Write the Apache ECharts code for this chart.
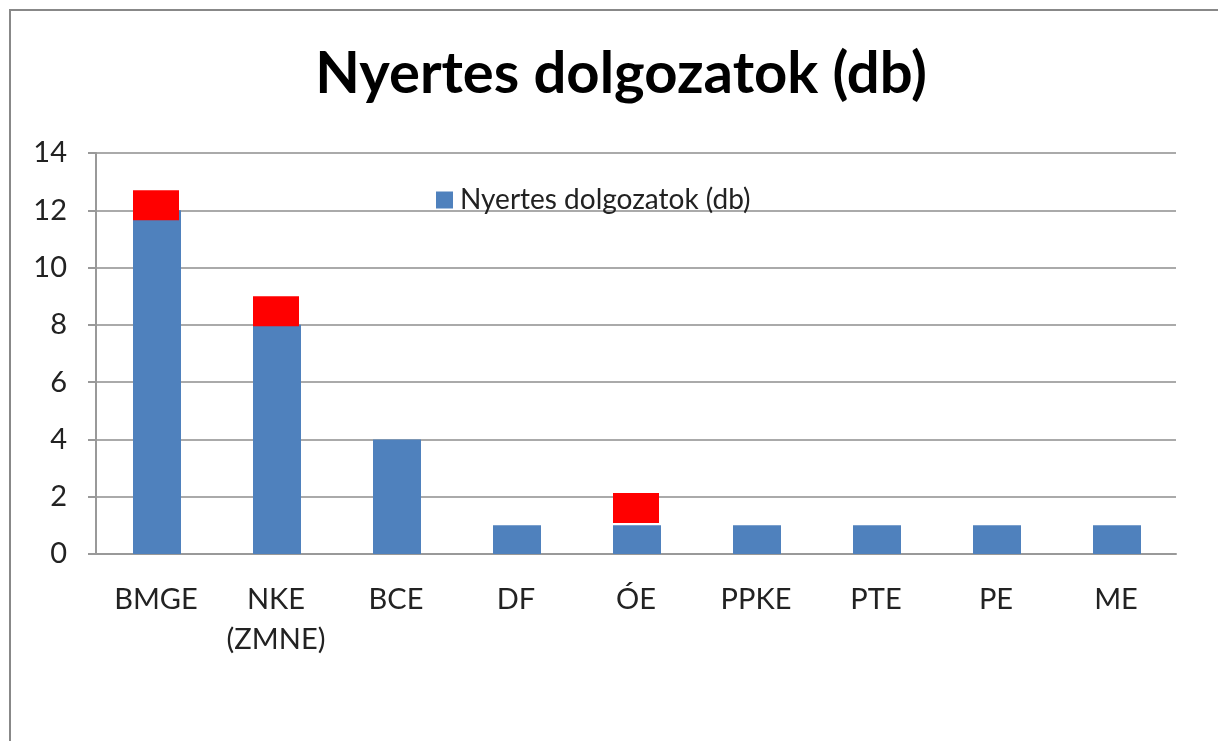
<!DOCTYPE html>
<html>
<head>
<meta charset="utf-8">
<script src="https://cdn.jsdelivr.net/npm/echarts@6/dist/echarts.min.js"></script>
<style>
  html, body { margin: 0; padding: 0; background: #fff; }
  #chart { width: 1218px; height: 741px; }
</style>
</head>
<body>
<div id="chart"></div>
<script>
// 数据
const categories = ['BMGE', 'NKE\n(ZMNE)', 'BCE', 'DF', 'ÓE', 'PPKE', 'PTE', 'PE', 'ME'];
const winners = [12, 8, 4, 1, 1, 1, 1, 1, 1];
// 红色标记（起点和高度）
const markBase = [11.65, 7.95, null, null, 1.08, null, null, null, null];
const markHeight = [1.05, 1.05, null, null, 1.05, null, null, null, null];
const yTicks = [0, 2, 4, 6, 8, 10, 12, 14];

const chart = echarts.init(document.getElementById('chart'));

const font = 'Lato, "Open Sans", sans-serif';

const option = {
  animation: false,
  backgroundColor: '#fff',
  title: {
    text: 'Nyertes dolgozatok (db)',
    left: 616,
    textAlign: 'center',
    top: 40,
    textStyle: {
      fontFamily: font,
      fontSize: 58,
      fontWeight: 'bold',
      color: '#000'
    }
  },
  legend: {
    data: ['Nyertes dolgozatok (db)'],
    left: 431,
    top: 181,
    itemWidth: 17,
    itemHeight: 17,
    itemGap: 10,
    icon: 'rect',
    textStyle: {
      fontFamily: font,
      fontSize: 28,
      color: '#222',
      padding: [0, 0, 0, 2]
    }
  },
  grid: {
    left: 96,
    right: 42,
    top: 153,
    bottom: 187
  },
  xAxis: {
    type: 'category',
    data: categories,
    axisLine: { lineStyle: { color: '#999', width: 2 } },
    axisTick: { length: 9, lineStyle: { color: '#999', width: 2 } },
    axisLabel: {
      interval: 0,
      fontFamily: font,
      fontSize: 29,
      color: '#222',
      lineHeight: 40,
      margin: 26
    }
  },
  yAxis: {
    type: 'value',
    min: yTicks[0],
    max: yTicks[yTicks.length - 1],
    interval: 2,
    axisLine: { show: true, lineStyle: { color: '#999', width: 2 } },
    axisTick: { show: true, length: 8, lineStyle: { color: '#999', width: 2 } },
    axisLabel: {
      fontFamily: font,
      fontSize: 29,
      color: '#222',
      margin: 29
    },
    splitLine: { lineStyle: { color: '#aaa', width: 2 } }
  },
  series: [
    {
      name: 'Nyertes dolgozatok (db)',
      type: 'bar',
      data: winners,
      barWidth: 48,
      barGap: '-100%',
      itemStyle: { color: '#4F81BD' }
    },
    {
      name: 'base',
      type: 'bar',
      stack: 'mark',
      data: markBase,
      barWidth: 46,
      itemStyle: { color: 'transparent' },
      silent: true
    },
    {
      name: 'mark',
      type: 'bar',
      stack: 'mark',
      data: markHeight,
      barWidth: 46,
      itemStyle: { color: '#FF0000' }
    }
  ],
  graphic: [
    {
      type: 'polyline',
      shape: { points: [[10, 741], [10, 10], [1218, 10]] },
      style: { stroke: '#888', lineWidth: 2, fill: null }
    }
  ]
};

chart.setOption(option);
</script>
</body>
</html>
